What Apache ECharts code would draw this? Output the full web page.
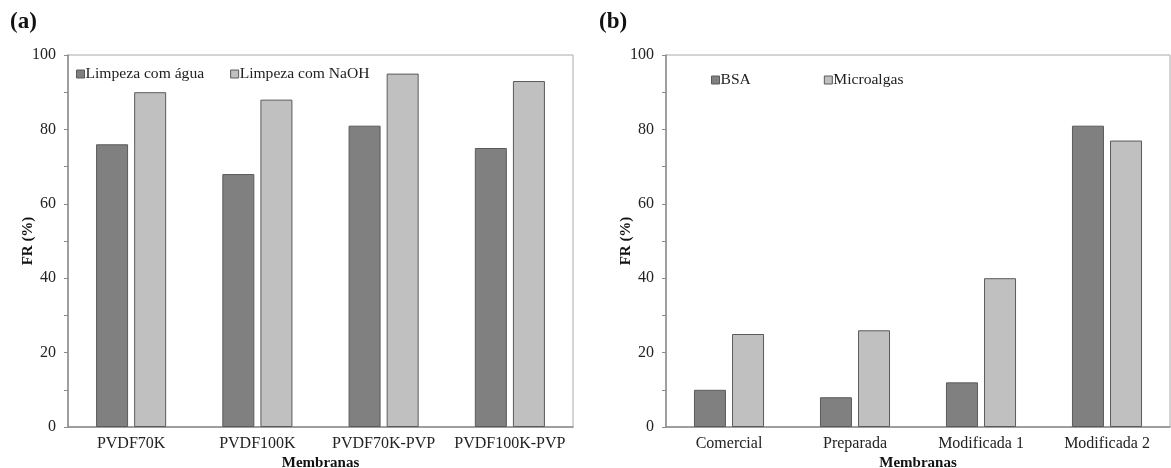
<!DOCTYPE html>
<html>
<head>
<meta charset="utf-8">
<script src="https://cdn.jsdelivr.net/npm/echarts@6/dist/echarts.min.js"></script>
<style>html,body{margin:0;padding:0;background:#fff}#c{width:1171px;height:468px}</style>
</head>
<body>
<div id="c"></div>
<script>
const catsA = ['PVDF70K', 'PVDF100K', 'PVDF70K-PVP', 'PVDF100K-PVP'];
const aguaA = [76, 68, 81, 75];
const naohA = [90, 88, 95, 93];
const catsB = ['Comercial', 'Preparada', 'Modificada 1', 'Modificada 2'];
const bsaB = [10, 8, 12, 81];
const microB = [25, 26, 40, 77];
const yTicks = [0, 20, 40, 60, 80, 100];

const FONT = '"Liberation Serif", "DejaVu Serif", serif';
const DARK = '#808080', LIGHT = '#c0c0c0', EDGE = '#5a5a5a', AX = '#8c8c8c';

function xAx(idx, cats) {
  return {
    type: 'category', gridIndex: idx, data: cats,
    name: 'Membranas', nameLocation: 'middle', nameGap: 29, nameMoveOverlap: false,
    nameTextStyle: { fontFamily: FONT, fontWeight: 'bold', fontSize: 15, color: '#111' },
    axisLine: { lineStyle: { color: AX, width: 1.5 } },
    axisTick: { show: false },
    axisLabel: { interval: 0, fontFamily: FONT, fontSize: 16, color: '#222', margin: 9 }
  };
}
function yAx(idx) {
  return {
    type: 'value', gridIndex: idx, min: 0, max: 100, interval: 20,
    name: 'FR (%)', nameLocation: 'middle', nameGap: 32, nameMoveOverlap: false,
    nameTextStyle: { fontFamily: FONT, fontWeight: 'bold', fontSize: 15, color: '#111' },
    axisLine: { show: true, lineStyle: { color: AX, width: 1.5 } },
    axisTick: { show: true, length: 4, lineStyle: { color: AX } },
    minorTick: { show: true, splitNumber: 2, length: 4, lineStyle: { color: AX } },
    splitLine: { show: false },
    axisLabel: { fontFamily: FONT, fontSize: 16, color: '#222', margin: 12,
      formatter: v => yTicks.includes(v) ? String(v) : '' }
  };
}
function bar(name, data, color, idx) {
  return {
    name, type: 'bar', data, xAxisIndex: idx, yAxisIndex: idx,
    barWidth: 32, barGap: '19%',
    itemStyle: { color, borderColor: EDGE, borderWidth: 1 },
    silent: true
  };
}
const legendText = { fontFamily: FONT, fontSize: 15.6, color: '#222', padding: [0, 0, 0, -4] };

const chart = echarts.init(document.getElementById('c'), null, { renderer: 'canvas' });
chart.setOption({
  animation: false,
  backgroundColor: '#fff',
  title: [
    { text: '(a)', left: 5, top: 6, textStyle: { fontFamily: FONT, fontWeight: 'bold', fontSize: 23, color: '#111' } },
    { text: '(b)', left: 594, top: 6, textStyle: { fontFamily: FONT, fontWeight: 'bold', fontSize: 23, color: '#111' } }
  ],
  legend: [
    { data: ['Limpeza com água', 'Limpeza com NaOH'], left: 76, top: 66, padding: 0, itemWidth: 8, itemHeight: 8,
      itemGap: 26, icon: 'rect', textStyle: legendText,
      itemStyle: { borderColor: EDGE, borderWidth: 1 } },
    { data: ['BSA', 'Microalgas'], left: 711, top: 72, padding: 0, itemWidth: 8, itemHeight: 8,
      itemGap: 73, icon: 'rect', textStyle: legendText,
      itemStyle: { borderColor: EDGE, borderWidth: 1 } }
  ],
  grid: [
    { left: 68, top: 55, width: 505, height: 372, outerBoundsMode: 'none', containLabel: false,
      show: true, borderColor: '#aaa', borderWidth: 1, backgroundColor: 'transparent' },
    { left: 666, top: 55, width: 504, height: 372, outerBoundsMode: 'none', containLabel: false,
      show: true, borderColor: '#aaa', borderWidth: 1, backgroundColor: 'transparent' }
  ],
  xAxis: [xAx(0, catsA), xAx(1, catsB)],
  yAxis: [yAx(0), yAx(1)],
  series: [
    bar('Limpeza com água', aguaA, DARK, 0),
    bar('Limpeza com NaOH', naohA, LIGHT, 0),
    bar('BSA', bsaB, DARK, 1),
    bar('Microalgas', microB, LIGHT, 1)
  ]
});
</script>
</body>
</html>
